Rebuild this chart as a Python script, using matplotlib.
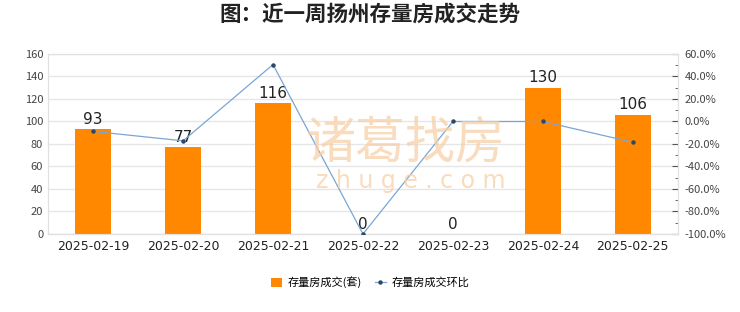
import matplotlib.pyplot as plt
from matplotlib.ticker import MultipleLocator, FuncFormatter

plt.rcParams['font.family'] = ['Noto Sans CJK SC', 'DejaVu Sans']

dates = ["2025-02-19", "2025-02-20", "2025-02-21", "2025-02-22",
         "2025-02-23", "2025-02-24", "2025-02-25"]
deals = [93, 77, 116, 0, 0, 130, 106]
change_pct = [-8.8, -17.2, 50.6, -100.0, 0.0, 0.0, -18.5]

fig = plt.figure(figsize=(7.4, 3.12), dpi=100)
ax = fig.add_axes([0.065, 0.25, 0.851, 0.577])
x = list(range(len(dates)))

bars = ax.bar(x, deals, width=0.4, color="#ff8800", zorder=2, label="存量房成交(套)")
for xi, v in zip(x, deals):
    ax.text(xi, v + 2, str(v), ha="center", va="bottom", fontsize=11,
            color="#222222", family="DejaVu Sans", zorder=5)

ax.set_xlim(-0.5, len(dates) - 0.5)
ax.set_ylim(0, 160)
ax.yaxis.set_major_locator(MultipleLocator(20))
ax.set_xticks(x)
ax.set_xticklabels(dates, fontsize=9, color="#222222", family="DejaVu Sans")
ax.tick_params(axis="y", length=0, labelsize=8, labelcolor="#444444")
ax.tick_params(axis="x", length=0, pad=4)
ax.grid(axis="y", color="#e6e6e6", linewidth=1, zorder=0)
for s in ["top", "right", "bottom", "left"]:
    ax.spines[s].set_color("#e0e0e0")
ax.spines["bottom"].set_color("#cccccc")

ax2 = ax.twinx()
line, = ax2.plot(x, change_pct, color="#7aa6d4", linewidth=0.9, marker="o",
                 markersize=2.2, markerfacecolor="#2c4866", markeredgecolor="#2c4866",
                 zorder=4, label="存量房成交环比")
ax2.set_ylim(-100, 60)
ax2.yaxis.set_major_locator(MultipleLocator(20))
ax2.yaxis.set_minor_locator(MultipleLocator(10))
ax2.yaxis.set_major_formatter(FuncFormatter(lambda v, p: "%.1f%%" % v))
ax2.tick_params(axis="y", which="major", length=4, direction="in", labelsize=8,
                labelcolor="#444444", color="#555555", pad=5)
ax2.tick_params(axis="y", which="minor", length=2, direction="in", color="#555555")
for s in ["top", "right", "bottom", "left"]:
    ax2.spines[s].set_color("#e0e0e0")

# watermark
fig.text(0.549, 0.54, "诸葛找房", fontsize=36, color="#f7cfa8", alpha=0.75,
         ha="center", va="center", zorder=10)
fig.text(0.555, 0.42, "z h u g e . c o m", fontsize=17, color="#f7cfa8", alpha=0.75,
         ha="center", va="center", family="DejaVu Sans", zorder=10)

fig.suptitle("图：近一周扬州存量房成交走势", y=0.99, fontsize=15.5, fontweight="bold",
             color="#222222")

fig.legend([bars, line], ["存量房成交(套)", "存量房成交环比"], loc="center",
           bbox_to_anchor=(0.5, 0.095), ncol=2, frameon=False, fontsize=8,
           handlelength=1.0, handleheight=0.8, columnspacing=1.2, handletextpad=0.5)

fig.savefig("out.png", dpi=100)
